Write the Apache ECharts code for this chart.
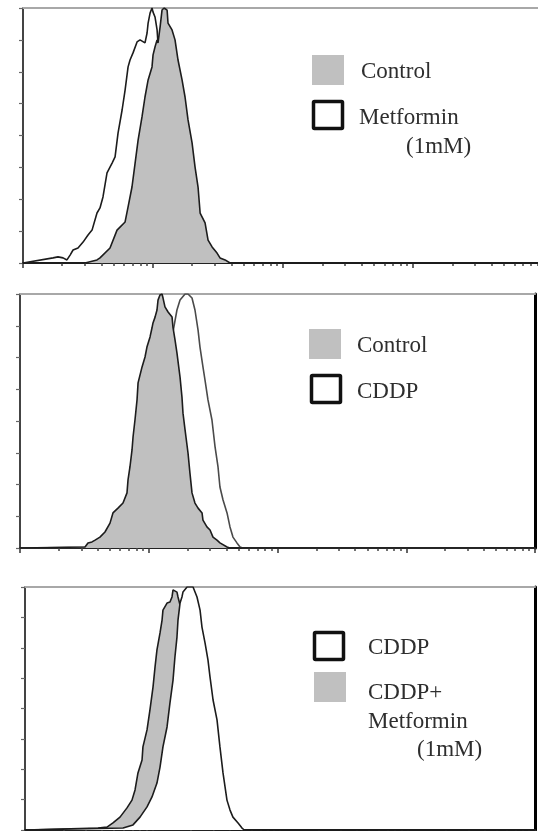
<!DOCTYPE html>
<html>
<head>
<meta charset="utf-8">
<title>Flow histograms</title>
<script src="https://cdn.jsdelivr.net/npm/echarts@6/dist/echarts.min.js"></script>
<style>
  html, body { margin: 0; padding: 0; background: #fff; }
  #chart { width: 538px; height: 831px; }
</style>
</head>
<body>
<div id="chart"></div>
<script>
// x values are log10 of fluorescence (decades), y is % of peak count
let decades = [0, 1, 2, 3, 4];
let minorMultiples = [2, 3, 4, 5, 6, 7, 8, 9];

// panel 1: Control vs Metformin (1mM)
let metX1 = [0, 0.231, 0.269, 0.308, 0.338, 0.362, 0.385, 0.423, 0.462, 0.500, 0.531, 0.569, 0.592, 0.615, 0.646, 0.685, 0.708, 0.731, 0.762, 0.785, 0.808, 0.823, 0.846, 0.877, 0.900, 0.938, 0.954, 0.962, 0.977, 0.992, 1.000, 1.015, 1.031, 1.038, 1.092, 1.169, 1.246, 1.323, 1.400, 1.477, 3.96];
let metY1 = [0, 2.0, 2.4, 2.0, 1.2, 3.1, 5.1, 5.9, 8.2, 11.0, 12.9, 19.6, 21.6, 25.9, 35.3, 39.2, 41.6, 51.0, 60.0, 67.8, 76.9, 79.6, 82.4, 86.7, 87.5, 86.3, 90.2, 94.1, 98.0, 100, 98.4, 96.5, 91.4, 86.3, 75.7, 56.1, 32.5, 12.9, 3.1, 0, 0];
let ctrlX1 = [0, 0.477, 0.569, 0.592, 0.669, 0.723, 0.785, 0.808, 0.838, 0.862, 0.885, 0.915, 0.938, 0.962, 0.992, 1.000, 1.015, 1.031, 1.038, 1.054, 1.069, 1.085, 1.108, 1.115, 1.146, 1.169, 1.192, 1.223, 1.246, 1.269, 1.300, 1.323, 1.346, 1.362, 1.400, 1.423, 1.454, 1.492, 1.515, 1.554, 1.592, 3.96];
let ctrlY1 = [0, 0, 1.2, 2.0, 5.9, 12.9, 16.1, 22.0, 29.8, 39.2, 48.2, 57.3, 65.1, 71.8, 76.9, 81.6, 84.7, 87.5, 86.3, 92.5, 99.2, 100, 99.2, 94.1, 91.4, 87.5, 79.6, 71.8, 65.1, 56.1, 47.1, 37.6, 29.8, 19.6, 15.7, 9.0, 6.3, 3.9, 2.0, 1.2, 0, 0];

// panel 2: Control vs CDDP
let cddpX2 = [0, 0.777, 0.893, 0.971, 1.049, 1.103, 1.142, 1.165, 1.188, 1.219, 1.243, 1.282, 1.305, 1.336, 1.359, 1.383, 1.398, 1.421, 1.437, 1.460, 1.491, 1.515, 1.538, 1.553, 1.577, 1.608, 1.631, 1.654, 1.685, 1.709, 1.730, 4];
let cddpY2 = [0, 0.4, 3.1, 11.0, 26.8, 46.5, 66.1, 78.0, 85.0, 93.7, 97.6, 100, 100, 98.4, 93.7, 85.8, 79.1, 71.3, 66.1, 58.3, 50.4, 39.8, 31.9, 24.0, 18.9, 13.8, 8.3, 4.3, 2.0, 0.4, 0, 0];
let ctrlX2 = [0, 0.505, 0.528, 0.559, 0.583, 0.621, 0.660, 0.699, 0.722, 0.761, 0.800, 0.831, 0.839, 0.854, 0.870, 0.878, 0.893, 0.909, 0.917, 0.948, 0.971, 0.986, 1.010, 1.025, 1.033, 1.049, 1.064, 1.072, 1.087, 1.103, 1.111, 1.126, 1.150, 1.181, 1.188, 1.204, 1.219, 1.243, 1.258, 1.266, 1.282, 1.305, 1.320, 1.336, 1.359, 1.383, 1.414, 1.421, 1.452, 1.476, 1.499, 1.530, 1.553, 1.608, 1.63, 4];
let ctrlY2 = [0, 0.4, 2.0, 2.4, 3.1, 4.3, 6.3, 9.8, 13.8, 15.7, 17.7, 21.7, 26.8, 31.9, 38.6, 43.7, 50.4, 58.3, 65.0, 71.3, 75.2, 79.1, 83.1, 86.6, 88.6, 90.9, 93.7, 97.6, 99.6, 100, 98.4, 94.9, 92.9, 90.9, 87.0, 81.9, 76.8, 67.3, 59.4, 53.1, 46.5, 37.4, 29.5, 21.7, 17.7, 15.7, 13.8, 11.0, 8.3, 7.1, 4.3, 3.1, 2.0, 0.4, 0, 0];

// panel 3: CDDP vs CDDP+Metformin (1mM)
let comboX3 = [0, 0.573, 0.643, 0.690, 0.745, 0.800, 0.839, 0.863, 0.886, 0.918, 0.925, 0.957, 0.980, 1.004, 1.020, 1.035, 1.059, 1.075, 1.082, 1.114, 1.137, 1.153, 1.161, 1.176, 1.192, 1.200, 1.216, 1.255, 1.294, 1.333, 1.373, 1.427, 1.490, 4];
let comboY3 = [0, 0.8, 1.2, 2.9, 5.3, 9.1, 12.3, 16.5, 23.5, 28.8, 34.2, 41.2, 49.4, 58.8, 67.1, 74.1, 81.1, 86.4, 90.5, 93.4, 93.8, 95.9, 98.8, 99.6, 97.9, 95.9, 92.6, 78.2, 57.6, 37.0, 16.5, 4.1, 0, 0];
let cddpX3 = [0, 0.769, 0.847, 0.902, 0.957, 0.996, 1.035, 1.059, 1.082, 1.114, 1.137, 1.161, 1.176, 1.192, 1.200, 1.216, 1.231, 1.239, 1.271, 1.294, 1.318, 1.349, 1.373, 1.388, 1.412, 1.435, 1.451, 1.475, 1.506, 1.529, 1.553, 1.584, 1.608, 1.631, 1.671, 1.702, 1.72, 4];
let cddpY3 = [0, 0.8, 2.1, 5.3, 9.5, 13.6, 19.3, 25.9, 34.2, 42.4, 52.3, 61.7, 71.2, 79.4, 86.4, 93.4, 95.9, 97.9, 100, 100, 100, 95.9, 90.5, 83.5, 77.0, 70.0, 63.0, 53.5, 45.3, 34.2, 23.5, 12.3, 8.2, 5.3, 2.9, 0.8, 0, 0];

let GRAY = '#c0c0c0';
let LINE = '#1c1c1c';
let FONT = '"Liberation Serif", "Times New Roman", serif';

function pairs(xs, ys) {
  let out = [];
  for (let i = 0; i < xs.length; i++) {
    out.push([xs[i], ys[i]]);
  }
  return out;
}

function minorTicks(max) {
  let vals = [];
  for (let d = 0; d < decades.length - 1; d++) {
    minorMultiples.forEach(m => {
      let v = decades[d] + Math.log10(m);
      if (v <= max) vals.push(v);
    });
  }
  return vals;
}

function xAxesFor(gi, max) {
  return [{
    gridIndex: gi, type: 'value', min: 0, max: max, position: 'bottom',
    axisLine: { show: true, onZero: false, lineStyle: { color: '#222', width: 2 } },
    axisTick: { show: true, length: 3, customValues: minorTicks(max), lineStyle: { color: '#444', width: 1.5 } },
    axisLabel: { show: false }, splitLine: { show: false }
  }, {
    gridIndex: gi, type: 'value', min: 0, max: max, position: 'bottom',
    axisLine: { show: false, onZero: false },
    axisTick: { show: true, length: 5, customValues: decades.filter(v => v <= max), lineStyle: { color: '#333', width: 1.5 } },
    axisLabel: { show: false }, splitLine: { show: false }
  }, {
    gridIndex: gi, type: 'value', min: 0, max: max, position: 'top',
    axisLine: { show: true, onZero: false, lineStyle: { color: '#a8a8a8', width: 2 } },
    axisTick: { show: false }, axisLabel: { show: false }, splitLine: { show: false }
  }];
}

function yAxesFor(gi, rightBorder) {
  let arr = [{
    gridIndex: gi, type: 'value', min: 0, max: 100, interval: 12.5, position: 'left',
    axisLine: { show: true, onZero: false, lineStyle: { color: '#444', width: 2 } },
    axisTick: { show: true, length: 4, lineStyle: { color: '#666', width: 1.2 } },
    axisLabel: { show: false }, splitLine: { show: false }
  }];
  if (rightBorder) {
    arr.push({
      gridIndex: gi, type: 'value', min: 0, max: 100, position: 'right',
      axisLine: { show: true, onZero: false, lineStyle: { color: '#000', width: 3 } },
      axisTick: { show: false }, axisLabel: { show: false }, splitLine: { show: false }
    });
  }
  return arr;
}

// later = drawn on top (z), so the covered outline is hidden like in the scan
function hist(name, xi, yi, xs, ys, fill, z, lineColor) {
  let s = {
    name: name, type: 'line', xAxisIndex: xi, yAxisIndex: yi, z: z,
    data: pairs(xs, ys), symbol: 'none', silent: true, animation: false,
    lineStyle: { color: lineColor || LINE, width: 1.6 }
  };
  if (fill) s.areaStyle = { color: fill, opacity: 1 };
  return s;
}

function legendBox(x, y, filled) {
  if (filled) {
    return { type: 'rect', shape: { x: x, y: y, width: 32, height: 30 }, style: { fill: GRAY } };
  }
  return { type: 'rect', shape: { x: x + 1.5, y: y + 1.5, width: 29, height: 27, r: 1 }, style: { fill: '#fff', stroke: '#111', lineWidth: 3.5 } };
}

function label(text, x, y) {
  return { type: 'text', style: { text: text, x: x, y: y, fill: '#2e2e2e', font: '23px ' + FONT, verticalAlign: 'middle' } };
}

let xAxes = [].concat(xAxesFor(0, 3.96), xAxesFor(1, 4), xAxesFor(2, 4));
let yAxes = [].concat(yAxesFor(0, false), yAxesFor(1, true), yAxesFor(2, true));

let option = {
  backgroundColor: '#fff',
  animation: false,
  grid: [
    { left: 23, right: 0, top: 8, bottom: 568 },
    { left: 20, right: 3, top: 294, bottom: 283 },
    { left: 25, right: 3, top: 587, bottom: 1 }
  ],
  xAxis: xAxes,
  yAxis: yAxes,
  series: [
    hist('Metformin (1mM)', 0, 0, metX1, metY1, null, 2),
    hist('Control', 0, 0, ctrlX1, ctrlY1, GRAY, 3),
    hist('CDDP', 3, 1, cddpX2, cddpY2, null, 2, '#4a4a4a'),
    hist('Control', 3, 1, ctrlX2, ctrlY2, GRAY, 3),
    hist('CDDP+Metformin (1mM)', 6, 3, comboX3, comboY3, GRAY, 2),
    hist('CDDP', 6, 3, cddpX3, cddpY3, '#fff', 3)
  ],
  graphic: [
    legendBox(312, 55, true), label('Control', 361, 72),
    legendBox(312, 100, false), label('Metformin', 359, 118), label('(1mM)', 406, 147),
    legendBox(309, 329, true), label('Control', 357, 346),
    legendBox(310, 374, false), label('CDDP', 357, 392),
    legendBox(313, 631, false), label('CDDP', 368, 648),
    legendBox(314, 672, true), label('CDDP+', 368, 693), label('Metformin', 368, 722), label('(1mM)', 417, 750)
  ]
};

let chart = echarts.init(document.getElementById('chart'), null, { renderer: 'canvas' });
chart.setOption(option);
</script>
</body>
</html>
